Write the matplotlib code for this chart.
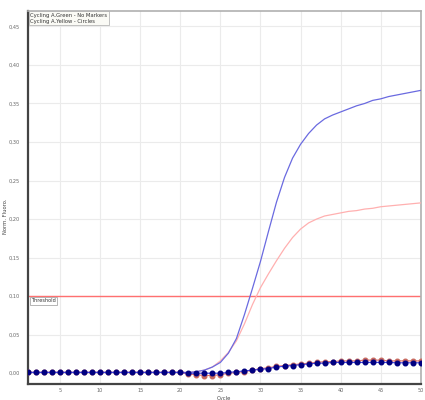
import matplotlib
matplotlib.use("Agg")
import matplotlib.pyplot as plt
from matplotlib.ticker import FuncFormatter

cycles = list(range(1, 51))

# Green channel (lines, no markers)
green_blue = [0.001] * 21 + [
    0.002, 0.004, 0.008, 0.014, 0.026, 0.045, 0.076, 0.110, 0.145, 0.184,
    0.222, 0.254, 0.279, 0.297, 0.311, 0.322, 0.330, 0.335, 0.339, 0.343,
    0.347, 0.350, 0.354, 0.356, 0.359, 0.361, 0.363, 0.365, 0.367]
green_pink = [0.001] * 21 + [
    0.002, 0.004, 0.008, 0.016, 0.027, 0.042, 0.064, 0.089, 0.111, 0.129,
    0.146, 0.162, 0.176, 0.187, 0.195, 0.200, 0.204, 0.206, 0.208, 0.210,
    0.211, 0.213, 0.214, 0.216, 0.217, 0.218, 0.219, 0.220, 0.221]

# Yellow channel (circles)
yellow_navy = [0.001] * 20 + [
    0.000, 0.000, 0.000, 0.000, 0.000, 0.001, 0.002, 0.003, 0.004, 0.005,
    0.006, 0.008, 0.009, 0.010, 0.011, 0.012, 0.013, 0.013, 0.014, 0.014,
    0.014, 0.014, 0.014, 0.014, 0.014, 0.014, 0.0135, 0.0135, 0.0135, 0.0135]
yellow_red = [0.001] * 20 + [
    -0.001, -0.002, -0.003, -0.003, -0.002, 0.000, 0.001, 0.002, 0.004, 0.006,
    0.007, 0.009, 0.010, 0.011, 0.012, 0.013, 0.014, 0.015, 0.015, 0.016,
    0.016, 0.016, 0.017, 0.017, 0.017, 0.016, 0.016, 0.016, 0.016, 0.016]

threshold = 0.10
x_ticks = [5, 10, 15, 20, 25, 30, 35, 40, 45, 50]
y_ticks = [0.00, 0.05, 0.10, 0.15, 0.20, 0.25, 0.30, 0.35, 0.40, 0.45]
legend_lines = ["Cycling A.Green - No Markers", "Cycling A.Yellow - Circles"]

fig = plt.figure(figsize=(4.25, 4.0), dpi=100)
ax = fig.add_axes([0.066, 0.04, 0.924, 0.9325])

ax.set_xlim(1, 50)
ax.set_ylim(-0.014, 0.47)
ax.set_xticks(x_ticks)
ax.set_yticks(y_ticks)
ax.yaxis.set_major_formatter(FuncFormatter(lambda v, p: f"{v:.2f}".replace(".", ",")))
ax.grid(True, color="#ebebeb", linewidth=0.8)
ax.set_axisbelow(True)
ax.tick_params(labelsize=3.6, colors="#666666", length=0)
ax.tick_params(axis="x", pad=3)
ax.tick_params(axis="y", pad=6)

for side in ("left", "bottom"):
    ax.spines[side].set_color("#444444")
    ax.spines[side].set_linewidth(1.6)
for side in ("top", "right"):
    ax.spines[side].set_color("#b0b0b0")
    ax.spines[side].set_linewidth(1.2)

ax.set_xlabel("Cycle", fontsize=3.8, color="#444444")
ax.xaxis.set_label_coords(0.5, -0.031)
ax.set_ylabel("Norm. Fluoro.", fontsize=3.8, color="#444444")
ax.yaxis.set_label_coords(-0.052, 0.45)

# Threshold
ax.axhline(threshold, color="#ff7070", linewidth=1.0, zorder=2)
ax.text(1.4, threshold - 0.003, "Threshold", fontsize=3.6, color="#333333",
        va="top", ha="left",
        bbox=dict(boxstyle="square,pad=0.25", fc="white", ec="#999999", lw=0.5))

# Green channel
ax.plot(cycles, green_pink, color="#ffb0b0", linewidth=0.9, zorder=3)
ax.plot(cycles, green_blue, color="#6a6ae0", linewidth=0.9, zorder=3)

# Yellow channel
ax.plot(cycles, yellow_red, color="#e07070", linewidth=0.8, marker="o",
        markersize=3.3, markerfacecolor="#c86a60", markeredgecolor="#c86a60", zorder=4)
ax.plot(cycles, yellow_navy, color="#4040e0", linewidth=0.8, marker="o",
        markersize=3.3, markerfacecolor="#000080", markeredgecolor="#000080", zorder=5)

# Legend box
ax.text(1.3, 0.468, "\n".join(legend_lines), fontsize=3.8, color="#333333",
        va="top", ha="left", linespacing=1.3,
        bbox=dict(boxstyle="square,pad=0.3", fc="#fafaf5", ec="#aaaaaa", lw=0.5))

fig.savefig("out.png", dpi=100)
